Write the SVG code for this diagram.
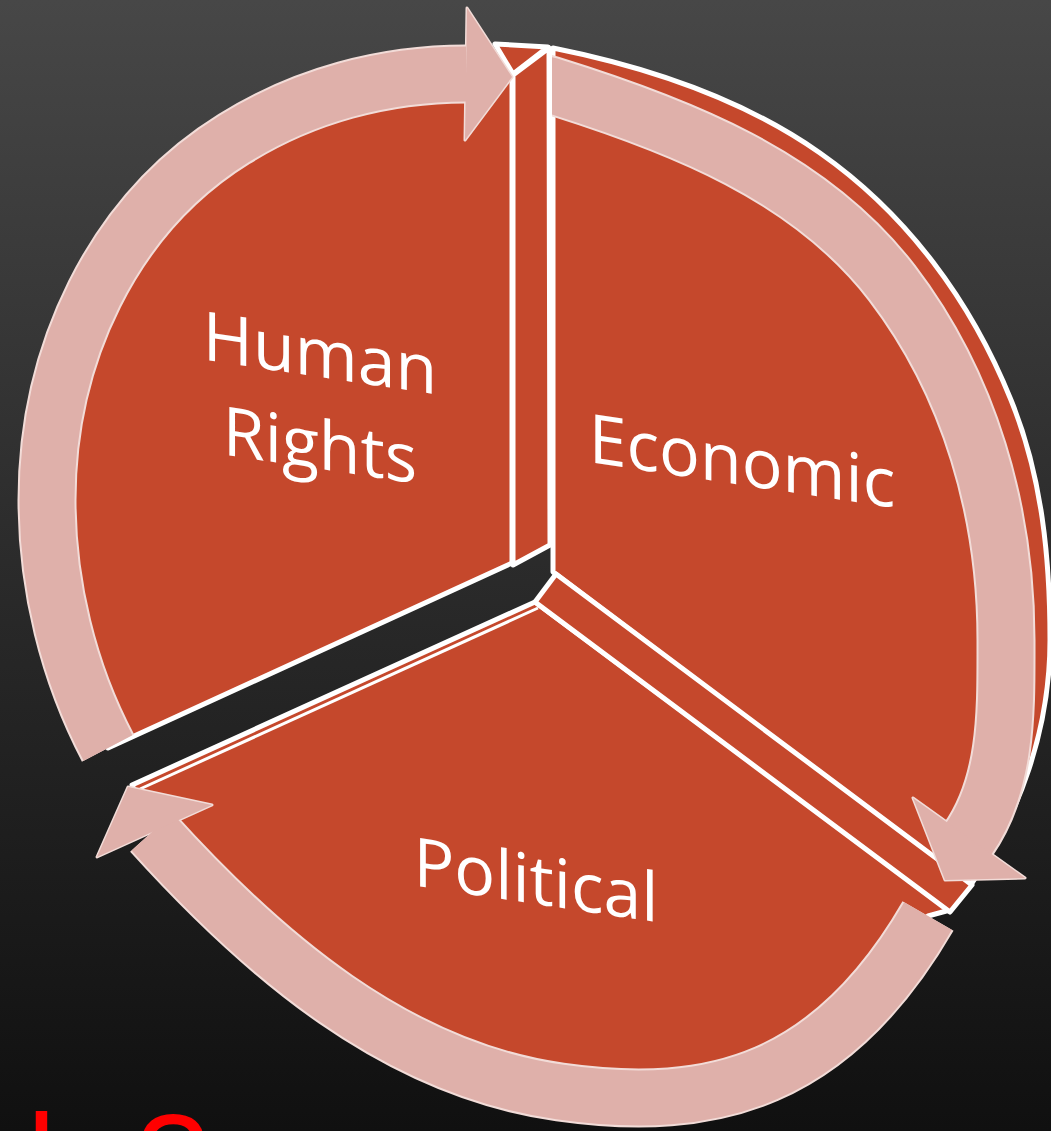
<svg xmlns="http://www.w3.org/2000/svg" width="1051" height="1131" viewBox="0 0 1051 1131">
<defs>
<linearGradient id="bg" x1="0" y1="0" x2="0" y2="1">
<stop offset="0" stop-color="#474747"/>
<stop offset="0.55" stop-color="#282828"/>
<stop offset="1" stop-color="#101010"/>
</linearGradient>
<clipPath id="econClip"><rect x="552" y="0" width="499" height="1131"/></clipPath>
<style>
.face{fill:#C5482C;stroke:#FFFFFF;stroke-width:5;stroke-linejoin:round}
.edge{fill:none;stroke:#FFFFFF;stroke-width:3}
.label{font-family:"Open Sans","Noto Sans",sans-serif;font-size:68px;fill:#FFFFFF;text-anchor:middle}
.band-edge{fill:none;stroke:#F2DCD8;stroke-width:59}
.band{fill:none;stroke:#DFB0AA;stroke-width:55}
.head-edge{fill:#F2DCD8;stroke:#F2DCD8;stroke-width:3;stroke-linejoin:round}
.head{fill:#DFB0AA}
</style>
</defs>
<rect x="0" y="0" width="1051" height="1131" fill="url(#bg)"/>

<g id="node-human-rights">
<path class="face" d="M512,563 L108,748 C68,672 47,585 47,500 C47,356 111.6,215 234,139 C303.7,95.5 384,74 466,74 L512,74 Z"/>
<text class="label" x="320" y="377" transform="matrix(1 0.15 0 1 0 -48)">Human</text>
<text class="label" x="320" y="469" transform="matrix(1 0.15 0 1 0 -48)">Rights</text>
</g>

<g id="node-political">
<path class="face" d="M535,602 L132,785 L152,832 C263,955 395.6,1068.9 560,1092 C715,1114 833,1080 928,916 L950,910 Z"/>
<line class="edge" x1="538" y1="608" x2="140" y2="789"/>
<text class="label" x="536" y="904" transform="matrix(1 0.15 0 1 0 -80.4)">Political</text>
</g>

<g id="node-economic">
<path class="face" d="M553,572 L553,48 C648,67 741,97.5 820,153 C907,214 971,301 1011,400 C1042,476 1050,558 1050,640 C1050,728 1020.6,813.8 970,886 Z"/>
<polygon class="face" points="556,574 972,885 950,912 535,602"/>
<polygon class="face" points="513,75 549,48 550,545 513,565"/>
<polygon class="face" points="495,44 548,47 513,74"/>
<text class="label" x="742" y="485" transform="matrix(1 0.15 0 1 0 -111.3)">Economic</text>
</g>

<g id="connectors">
<g id="arrow-economic" clip-path="url(#econClip)">
<path class="band-edge" d="M530,80 L550,85 C679,125 810,176 892,283 C970,385 1006,512 1006,640 C1006,709.5 1008,783 968,840"/>
<polygon class="head-edge" points="913,798 1025,878 945,880"/>
<path class="band" d="M530,80 L550,85 C679,125 810,176 892,283 C970,385 1006,512 1006,640 C1006,709.5 1008,783 968,840"/>
<polygon class="head" points="913,798 1025,878 945,880"/>
</g>
<g id="arrow-political">
<path class="band-edge" d="M152,832 C263,955 395.6,1068.9 560,1092 C715,1114 833,1080 928,916"/>
<polygon class="head-edge" points="128,787 212,805 97,857"/>
<path class="band" d="M152,832 C263,955 395.6,1068.9 560,1092 C715,1114 833,1080 928,916"/>
<polygon class="head" points="128,787 212,805 97,857"/>
</g>
<g id="arrow-human-rights">
<path class="band-edge" d="M108,748 C68,672 47,585 47,500 C47,356 111.6,215 234,139 C303.7,95.5 384,74 466,74"/>
<polygon class="head-edge" points="467,8 512,77 465,140"/>
<path class="band" d="M108,748 C68,672 47,585 47,500 C47,356 111.6,215 234,139 C303.7,95.5 384,74 466,74"/>
<polygon class="head" points="467,8 512,77 465,140"/>
</g>
</g>

<text x="27" y="1205" font-family="'Liberation Sans',Arial,sans-serif" font-size="130" fill="#FF0000"><tspan x="27">l</tspan><tspan x="136">?</tspan></text>
</svg>
